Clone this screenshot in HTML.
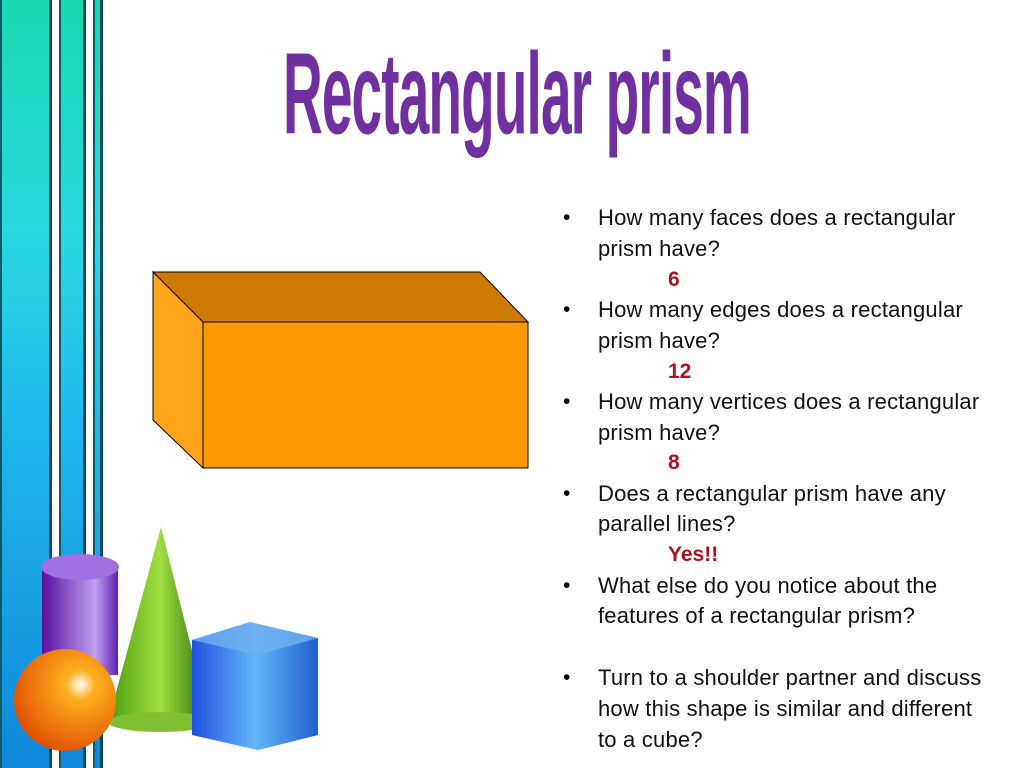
<!DOCTYPE html>
<html><head><style>
body{margin:0;width:1024px;height:768px;position:relative;background:#fff;overflow:hidden;font-family:"Liberation Sans",sans-serif}
.bar{position:absolute;top:0;height:768px;background:linear-gradient(#16d8b0 0%,#2ad8e0 30%,#20b8ec 55%,#1088dc 100%);box-shadow:inset 2px 0 0 #0a5a6a,inset -3px 0 0 #0a4a5a}
.t{position:absolute;left:598px;font-size:22px;letter-spacing:0.2px;color:#111;white-space:nowrap;line-height:30px}
.b{position:absolute;left:563px;font-size:21px;line-height:30px}
.r{position:absolute;left:668px;font-size:21px;color:#b0101a;font-weight:bold;line-height:30px}
</style></head><body>
<div class="bar" style="left:0;width:52px"></div>
<div class="bar" style="left:59px;width:27px"></div>
<div class="bar" style="left:93px;width:10px"></div>
<div style="position:absolute;left:283px;top:36px;font-size:125px;line-height:1;font-weight:bold;color:#7030a0;transform:scale(0.44,0.93);transform-origin:left top;white-space:nowrap;letter-spacing:-2px">Rectangular prism</div>
<svg style="position:absolute;left:0;top:0" width="1024" height="768">
<polygon points="153,272 480,272 528,322 203,322" fill="#cc7a00" stroke="#000" stroke-width="1"/>
<polygon points="153,272 203,322 203,468 153,420" fill="#ffa31a" stroke="#000" stroke-width="1"/>
<rect x="203" y="322" width="325" height="146" fill="#ff9900" stroke="#000" stroke-width="1"/>
<defs>
<linearGradient id="cy" x1="0" x2="1"><stop offset="0" stop-color="#5a10a0"/><stop offset="0.7" stop-color="#c0a0f0"/><stop offset="1" stop-color="#6020b0"/></linearGradient>
<linearGradient id="co" x1="0" x2="1"><stop offset="0" stop-color="#4a9a10"/><stop offset="0.5" stop-color="#a0e040"/><stop offset="1" stop-color="#2a6a08"/></linearGradient>
<radialGradient id="sp" cx="0.65" cy="0.35" r="0.7"><stop offset="0" stop-color="#fff"/><stop offset="0.2" stop-color="#ffb020"/><stop offset="1" stop-color="#e05000"/></radialGradient>
<linearGradient id="cb" x1="0" x2="1"><stop offset="0" stop-color="#2050e0"/><stop offset="0.5" stop-color="#60b8f8"/><stop offset="1" stop-color="#2060d0"/></linearGradient>
</defs>
<rect x="42" y="565" width="76" height="110" fill="url(#cy)"/>
<ellipse cx="80" cy="567" rx="39" ry="13" fill="#a070e0"/>
<polygon points="161,527 108,722 210,722" fill="url(#co)"/>
<ellipse cx="160" cy="722" rx="52" ry="10" fill="#80c030"/>
<polygon points="192,640 250,622 318,638 318,735 258,750 192,735" fill="url(#cb)"/>
<polygon points="192,640 250,622 318,638 258,655" fill="#70b0f0" opacity="0.8"/>
<circle cx="65" cy="700" r="51" fill="url(#sp)"/>
</svg>
<div class="b" style="top:203px">•</div><div class="t" style="top:203px">How many faces does a rectangular</div>
<div class="t" style="top:234px">prism have?</div>
<div class="r" style="top:265px">6</div>
<div class="b" style="top:295px">•</div><div class="t" style="top:295px">How many edges does a rectangular</div>
<div class="t" style="top:326px">prism have?</div>
<div class="r" style="top:357px">12</div>
<div class="b" style="top:387px">•</div><div class="t" style="top:387px">How many vertices does a rectangular</div>
<div class="t" style="top:418px">prism have?</div>
<div class="r" style="top:448px">8</div>
<div class="b" style="top:479px">•</div><div class="t" style="top:479px">Does a rectangular prism have any</div>
<div class="t" style="top:509px">parallel lines?</div>
<div class="r" style="top:540px">Yes!!</div>
<div class="b" style="top:571px">•</div><div class="t" style="top:571px">What else do you notice about the</div>
<div class="t" style="top:601px">features of a rectangular prism?</div>
<div class="b" style="top:663px">•</div><div class="t" style="top:663px">Turn to a shoulder partner and discuss</div>
<div class="t" style="top:694px">how this shape is similar and different</div>
<div class="t" style="top:725px">to a cube?</div>
</body></html>
